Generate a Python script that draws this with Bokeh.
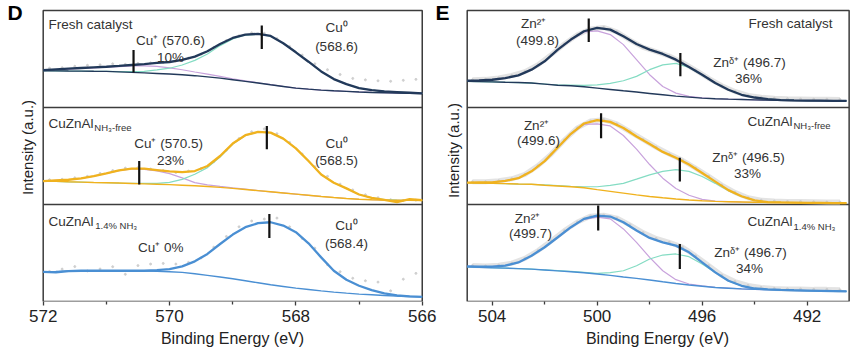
import math
from bokeh.plotting import figure
from bokeh.models import Range1d, Label, FixedTicker
from bokeh.layouts import row
from bokeh.embed import file_html
from bokeh.resources import INLINE

# ---------------- Cu 2p (panel D) ----------------
cu_box = (572.0, 566.0)
cu_e = [572.0, 571.8, 571.6, 571.4, 571.2, 571.0, 570.8, 570.6, 570.4, 570.2, 570.0,
        569.8, 569.6, 569.4, 569.2, 569.0, 568.8, 568.6, 568.4, 568.2, 568.0,
        567.8, 567.6, 567.4, 567.2, 567.0, 566.8, 566.6, 566.4, 566.2, 566.0]
cu_dot_e = [571.9, 571.7, 571.5, 571.3, 571.1, 570.9, 570.7, 570.5, 570.3, 570.1,
            569.9, 569.7, 569.5, 569.3, 569.1, 568.9, 568.7, 568.5, 568.3, 568.1,
            567.9, 567.7, 567.5, 567.3, 567.1, 566.9, 566.7, 566.5, 566.3, 566.1]

cu_fresh_env = [38.6, 39.3, 40.0, 40.7, 41.4, 42.0, 42.8, 43.8, 44.8, 45.9, 46.9, 49.0, 52.4, 58.0, 65.5, 71.7,
                75.2, 75.9, 73.8, 66.2, 56.9, 47.2, 37.2, 29.3, 24.1, 20.0, 17.9, 16.6, 15.9, 15.2, 14.5]
cu_fresh_bg = [37.9, 37.8, 37.6, 37.5, 37.3, 37.2, 36.7, 36.2, 35.7, 35.1, 34.5, 33.7, 32.8, 31.6, 30.3, 28.6,
               26.9, 25.2, 23.4, 21.7, 20.0, 18.9, 17.9, 17.2, 16.6, 16.0, 15.5, 15.2, 14.8, 14.6, 14.5]
cu_fresh_cup = [38.5, 39.0, 39.6, 40.2, 40.9, 41.5, 42.2, 42.9, 43.0, 42.3, 40.9, 38.9, 36.6, 34.4, 32.0, 29.6,
                27.4, 25.5, 23.6, 21.7, 20.0, 18.9, 17.9, 17.2, 16.6, 16.0, 15.5, 15.2, 14.8, 14.6, 14.5]
cu_fresh_cu0 = [37.9, 37.8, 37.6, 37.5, 37.3, 37.3, 37.0, 36.9, 37.3, 38.7, 40.5, 43.8, 48.6, 55.2, 63.8, 70.7,
                74.7, 75.6, 73.6, 66.2, 56.9, 47.2, 37.2, 29.3, 24.1, 20.0, 17.9, 16.6, 15.9, 15.2, 14.5]
cu_fresh_dots = [40.5, 41.0, 42.5, 43.5, 44.0, 45.0, 44.5, 45.5, 46.0, 46.5, 48.0, 51.0, 55.0, 62.0, 69.0,
                 74.0, 77.0, 76.5, 71.0, 63.0, 54.0, 45.0, 39.0, 34.0, 30.0, 28.5, 27.5, 27.0, 28.0, 29.0]

cu_free_env = [24.1, 24.8, 25.5, 26.9, 29.3, 32.1, 35.2, 36.9, 36.9, 35.5, 34.1, 33.4, 34.5, 39.7, 50.0, 62.8,
               71.4, 74.8, 74.1, 67.9, 57.9, 44.8, 31.0, 22.4, 16.6, 10.3, 6.9, 4.8, 2.5, 5.5, 4.5]
cu_free_bg = [24.1, 23.8, 23.4, 23.1, 22.7, 22.4, 22.1, 21.7, 21.3, 20.9, 20.5, 19.9, 19.3, 18.5, 17.6, 16.6,
              15.5, 14.3, 13.1, 11.9, 10.7, 9.5, 8.3, 7.2, 6.2, 5.4, 4.9, 4.6, 4.4, 4.2, 4.1]
cu_free_cup = [24.1, 24.8, 25.5, 26.9, 29.2, 32.0, 35.0, 36.6, 36.3, 34.6, 31.8, 27.4, 22.6, 20.2, 18.6, 17.1,
               15.8, 14.4, 13.1, 11.9, 10.7, 9.5, 8.3, 7.2, 6.2, 5.4, 4.9, 4.6, 4.4, 4.2, 4.1]
cu_free_cu0 = [24.1, 23.8, 23.4, 23.1, 22.7, 22.4, 22.1, 21.9, 21.8, 21.8, 22.8, 25.9, 31.2, 38.0, 49.0, 62.3,
               71.1, 74.7, 74.1, 67.9, 57.9, 44.8, 31.0, 22.4, 16.6, 10.3, 6.9, 5.0, 4.5, 4.2, 4.1]
cu_free_dots = [25.5, 26.0, 27.5, 29.0, 32.0, 35.0, 37.5, 38.0, 36.5, 35.0, 33.0, 34.5, 37.0, 44.0, 56.0,
                68.0, 75.0, 78.0, 73.0, 64.0, 52.0, 39.0, 29.0, 21.0, 15.0, 10.0, 7.0, 5.0, 4.0, 4.5]

cu_nh3_env = [30.5, 30.0, 31.4, 31.7, 31.7, 31.7, 31.7, 31.7, 31.7, 32.4, 33.4, 36.2, 41.4, 49.0, 59.3, 69.0,
              76.6, 80.7, 81.7, 78.3, 71.4, 60.0, 45.5, 31.7, 22.4, 16.2, 11.7, 8.3, 6.2, 5.3, 4.8]
cu_nh3_bg = [30.5, 30.9, 31.4, 31.4, 31.4, 31.4, 31.4, 31.4, 31.3, 31.1, 30.7, 30.0, 28.6, 26.9, 25.2, 23.4,
             21.4, 19.3, 17.2, 15.5, 13.8, 12.4, 11.0, 9.7, 8.6, 7.6, 6.9, 6.2, 5.5, 5.2, 4.8]
cu_nh3_dots = [31.0, 33.4, 36.0, 31.5, 33.5, 35.9, 28.0, 37.0, 38.6, 39.3, 38.6, 40.3, 45.0, 56.0, 67.0,
               77.0, 83.0, 85.0, 86.0, 77.0, 65.0, 55.0, 38.0, 30.7, 24.0, 21.4, 20.0, 11.0, 23.0, 29.0]

cu_mark_e = [570.57, 568.54, 570.48, 568.46, 568.42]
cu_mark_lo = [36.2, 60.3, 20.7, 56.9, 65.5]
cu_mark_hi = [59.3, 84.5, 44.8, 81.0, 90.3]
cu_mark_panel = [2, 2, 1, 1, 0]

# ---------------- Zn LMM (panel E) ----------------
zn_box = (504.95, 490.4)
zn_e = [504.95, 504.5, 504.0, 503.5, 503.0, 502.5, 502.0, 501.5, 501.0, 500.5, 500.0, 499.5, 499.0, 498.5, 498.0,
        497.5, 497.0, 496.5, 496.0, 495.5, 495.0, 494.5, 494.0, 493.5, 493.0, 492.5, 492.0, 491.5, 491.0, 490.5]
zn_dot_e = [504.75, 504.25, 503.75, 503.25, 502.75, 502.25, 501.75, 501.25, 500.75, 500.25, 499.75, 499.25,
            498.75, 498.25, 497.75, 497.25, 496.75, 496.25, 495.75, 495.25, 494.75, 494.25, 493.75, 493.25,
            492.75, 492.25, 491.75, 491.25, 490.75]

zn_fresh_env = [27.6, 28.0, 28.6, 30.3, 33.1, 39.0, 47.6, 59.7, 70.0, 78.6, 82.1, 80.3, 73.4, 65.5, 59.7,
                55.2, 49.3, 41.7, 33.8, 25.2, 18.3, 13.1, 10.3, 8.6, 7.6, 7.3, 7.1, 7.0, 6.9, 6.9]
zn_fresh_bg = [26.9, 26.7, 26.4, 26.0, 25.7, 25.2, 24.1, 22.9, 22.4, 21.4, 20.0, 18.6, 17.2, 15.9, 14.5,
               13.1, 11.7, 10.7, 9.7, 9.0, 8.6, 8.3, 7.9, 7.6, 7.4, 7.2, 7.1, 6.9, 6.9, 6.9]
zn_fresh_zn2 = [27.6, 28.0, 28.6, 30.3, 33.1, 39.0, 47.5, 59.5, 69.5, 77.9, 79.0, 75.2, 64.8, 49.3, 33.8,
                21.7, 14.8, 11.4, 9.9, 9.0, 8.6, 8.3, 7.9, 7.6, 7.4, 7.2, 7.1, 6.9, 6.9, 6.9]
zn_fresh_znd = [26.9, 26.7, 26.4, 26.0, 25.7, 25.2, 24.2, 23.2, 23.0, 22.8, 23.4, 24.8, 27.6, 32.1, 39.0,
                44.0, 45.5, 41.2, 33.6, 25.2, 18.3, 13.1, 10.3, 8.6, 7.6, 7.3, 7.1, 7.0, 6.9, 6.9]
zn_fresh_dots = [28.5, 29.0, 30.5, 33.0, 37.0, 44.0, 54.5, 65.5, 75.0, 81.0, 82.5, 78.0, 69.5, 62.0, 57.5,
                 53.0, 46.5, 38.5, 30.0, 22.5, 16.5, 12.5, 10.5, 9.5, 9.0, 8.8, 8.5, 8.5, 8.3]

zn_free_env = [22.5, 22.7, 22.9, 24.3, 27.1, 34.2, 44.7, 58.8, 72.9, 83.5, 87.0, 85.2, 78.9, 70.1, 62.3,
               54.2, 48.2, 41.2, 32.4, 23.6, 14.8, 8.5, 4.2, 2.5, 2.1, 1.9, 1.7, 1.6, 1.5, 1.4]
zn_free_bg = [22.5, 22.2, 21.8, 21.5, 21.1, 20.8, 19.9, 19.1, 18.3, 17.3, 15.3, 13.5, 11.7, 9.9, 8.2,
              6.9, 5.7, 4.7, 3.9, 3.2, 2.9, 2.6, 2.3, 2.1, 2.0, 1.8, 1.7, 1.6, 1.5, 1.4]
zn_free_zn2 = [22.5, 22.7, 22.9, 24.3, 27.1, 34.2, 44.6, 58.6, 72.5, 82.5, 83.1, 81.0, 71.1, 57.0, 41.2,
               27.1, 16.5, 9.5, 5.3, 3.5, 3.0, 2.6, 2.3, 2.1, 2.0, 1.8, 1.7, 1.6, 1.5, 1.4]
zn_free_znd = [22.5, 22.2, 21.8, 21.5, 21.1, 20.8, 20.2, 19.5, 18.8, 18.3, 18.3, 19.7, 21.8, 26.1, 30.6,
               34.2, 35.9, 34.2, 28.9, 21.8, 14.1, 8.4, 4.2, 2.4, 2.1, 1.9, 1.7, 1.6, 1.5, 1.4]
zn_free_dots = [23.5, 23.5, 24.5, 26.5, 31.0, 40.0, 52.0, 66.5, 79.0, 86.0, 87.5, 83.0, 75.0, 67.0, 59.0,
                52.0, 45.5, 37.5, 29.0, 20.0, 12.5, 7.0, 4.5, 3.5, 3.0, 3.0, 2.8, 2.5, 2.5]

zn_nh3_env = [36.2, 36.0, 35.9, 36.9, 40.3, 47.2, 55.9, 66.2, 76.6, 85.2, 88.6, 87.6, 81.7, 73.1, 65.5,
              61.0, 57.6, 50.7, 40.3, 30.0, 21.4, 16.2, 13.4, 12.5, 12.0, 11.6, 11.3, 11.0, 10.7, 10.4]
zn_nh3_bg = [35.9, 35.3, 34.8, 34.4, 33.9, 33.4, 32.5, 31.6, 30.7, 29.7, 28.3, 26.9, 25.3, 23.8, 22.1,
             20.3, 18.6, 17.0, 15.7, 14.4, 13.7, 13.0, 12.6, 12.2, 11.9, 11.5, 11.2, 11.0, 10.7, 10.4]
zn_nh3_zn2 = [36.2, 36.0, 35.9, 36.9, 40.2, 47.1, 55.8, 66.0, 76.3, 84.7, 86.9, 85.2, 74.8, 61.0, 45.5,
              31.7, 22.5, 18.0, 16.2, 14.6, 13.8, 13.0, 12.6, 12.2, 11.9, 11.5, 11.2, 11.0, 10.7, 10.4]
zn_nh3_znd = [35.9, 35.3, 34.8, 34.4, 33.9, 33.4, 32.5, 31.8, 31.0, 30.0, 29.0, 29.7, 31.7, 36.9, 43.8,
              47.9, 49.0, 46.2, 38.6, 29.8, 21.3, 16.2, 13.4, 12.5, 12.0, 11.6, 11.3, 11.0, 10.7, 10.4]
zn_nh3_dots = [37.0, 36.5, 37.5, 39.5, 44.5, 52.5, 62.5, 73.0, 82.0, 88.0, 89.0, 86.0, 79.0, 71.0, 65.0,
               61.0, 56.0, 47.0, 37.0, 27.0, 20.5, 16.5, 14.5, 13.5, 13.0, 13.0, 12.5, 12.5, 12.0]

zn_mark_e = [500.32, 496.83, 499.85, 496.85, 499.96, 496.85]
zn_mark_lo = [67.6, 32.1, 68.3, 23.6, 73.1, 33.4]
zn_mark_hi = [91.7, 56.2, 94.0, 48.2, 99.0, 59.3]
zn_mark_panel = [2, 2, 1, 1, 0, 0]

cu_ticks = [572, 570, 568, 566]
cu_minor = [571, 569, 567]
zn_ticks = [504, 500, 496, 492]
zn_minor = [502, 498, 494]

# ---------------- styles ----------------
FONT = "Liberation Sans"
C_FRESH = "#22395a"
C_FREE = "#f0b21e"
C_NH3 = "#4a8fd3"
C_PURPLE = "#c8a2dc"
C_TEAL = "#84dcc3"
C_DOT = "#cccccc"
C_FRAME = "#3c3c3c"
C_TEXT = "#333333"
Y_TOP = 310.3   # frame reaches the top of the canvas


def off(arr, k):
    return [v + 100 * k for v in arr]


def make_fig(xr, width, border_right, ticks, minor, box):
    p = figure(width=width + border_right, height=355,
               x_range=Range1d(*xr), y_range=Range1d(0, Y_TOP),
               frame_width=width, frame_height=301,
               min_border_left=0, min_border_right=border_right, min_border_top=0, min_border_bottom=54,
               y_axis_location=None, output_backend="svg", toolbar_location=None)
    p.xgrid.visible = False
    p.ygrid.visible = False
    p.outline_line_color = None
    p.background_fill_color = "white"
    p.border_fill_color = "white"
    ax = p.xaxis[0]
    ax.ticker = FixedTicker(ticks=ticks, minor_ticks=minor)
    ax.axis_line_color = None
    ax.major_tick_in = 0
    ax.major_tick_out = 4
    ax.minor_tick_in = 0
    ax.minor_tick_out = 3
    ax.major_tick_line_color = C_FRAME
    ax.minor_tick_line_color = C_FRAME
    ax.major_tick_line_width = 1.3
    ax.minor_tick_line_width = 1.3
    ax.major_label_text_font = FONT
    ax.major_label_text_font_size = "17px"
    ax.major_label_text_color = "#222222"
    ax.major_label_standoff = 4
    ax.axis_label = "Binding Energy (eV)"
    ax.axis_label_text_font = FONT
    ax.axis_label_text_font_size = "16px"
    ax.axis_label_text_font_style = "normal"
    ax.axis_label_text_color = "#222222"
    ax.axis_label_standoff = 5
    # stacked boxes
    p.quad(left=[box[0]], right=[box[1]], bottom=[0], top=[300],
           fill_color=None, line_color=C_FRAME, line_width=1.5)
    p.segment(x0=[box[0], box[0]], x1=[box[1], box[1]], y0=[100, 200], y1=[100, 200],
              line_color=C_FRAME, line_width=1.5)
    return p


def lab(p, x, y, text, size="13.5px", align="center", style="normal", angle=0.0, color=C_TEXT):
    p.add_layout(Label(x=x, y=y, text=text, text_font=FONT, text_font_size=size,
                       text_align=align, text_baseline="middle", text_font_style=style,
                       text_color=color, angle=angle))


def draw_panel(p, xs, dxs, k, color, env, bg, dots, comp_a=None, comp_b=None, halo=False):
    if halo:
        p.line(dxs, off(dots, k), line_width=5, color="#dcdcdc", alpha=0.8)
    p.scatter(dxs, off(dots, k), size=2, color=C_DOT, alpha=0.9)
    if comp_a is not None:
        p.line(xs, off(comp_a, k), line_width=1.2, color=C_PURPLE)
    if comp_b is not None:
        p.line(xs, off(comp_b, k), line_width=1.2, color=C_TEAL)
    p.line(xs, off(bg, k), line_width=1.4, color=color)
    p.line(xs, off(env, k), line_width=2.3, color=color)


# ---------------- panel D (also carries the left margin texts of E) ----------------
pD = make_fig((572.676, 565.331), 464, 0, cu_ticks, cu_minor, cu_box)
draw_panel(pD, cu_e, cu_dot_e, 2, C_FRESH, cu_fresh_env, cu_fresh_bg, cu_fresh_dots, cu_fresh_cup, cu_fresh_cu0)
draw_panel(pD, cu_e, cu_dot_e, 1, C_FREE, cu_free_env, cu_free_bg, cu_free_dots, cu_free_cup, cu_free_cu0)
draw_panel(pD, cu_e, cu_dot_e, 0, C_NH3, cu_nh3_env, cu_nh3_bg, cu_nh3_dots)
pD.segment(x0=cu_mark_e, x1=cu_mark_e,
           y0=[lo + 100 * k for lo, k in zip(cu_mark_lo, cu_mark_panel)],
           y1=[hi + 100 * k for hi, k in zip(cu_mark_hi, cu_mark_panel)],
           line_width=2.2, color="#111111")

lab(pD, 571.916, 285.6, "Fresh catalyst", align="left")
lab(pD, 569.985, 269.1, "Cu⁺ (570.6)")
lab(pD, 569.985, 251.5, "10%")
lab(pD, 567.357, 282.5, "Cu⁰")
lab(pD, 567.357, 262.9, "(568.6)")

lab(pD, 571.916, 183.5, "CuZnAl", align="left")
lab(pD, 571.19, 178.9, "NH₃-free", size="9.5px", align="left")
lab(pD, 569.985, 162.9, "Cu⁺  (570.5)")
lab(pD, 569.985, 145.4, "23%")
lab(pD, 567.357, 162.9, "Cu⁰")
lab(pD, 567.357, 145.4, "(568.5)")

lab(pD, 571.916, 82.5, "CuZnAl", align="left")
lab(pD, 571.175, 78.4, "1.4% NH₃", size="9.5px", align="left")
lab(pD, 570.111, 55.7, "Cu⁺  0%")
lab(pD, 567.199, 78.4, "Cu⁰")
lab(pD, 567.199, 59.8, "(568.4)")

lab(pD, 572.249, 158.8, "Intensity (a.u.)", size="15px", angle=math.pi / 2, color="#222222")
lab(pD, 572.565, 297.9, "D", size="21px", align="left", style="bold", color="#000000")
lab(pD, 565.513, 155.7, "Intensity (a.u.)", size="15px", angle=math.pi / 2, color="#222222")
lab(pD, 565.79, 297.9, "E", size="21px", align="left", style="bold", color="#000000")

# ---------------- panel E ----------------
pE = make_fig((505.053, 490.348), 386, 15, zn_ticks, zn_minor, zn_box)
draw_panel(pE, zn_e, zn_dot_e, 2, C_FRESH, zn_fresh_env, zn_fresh_bg, zn_fresh_dots, zn_fresh_zn2, zn_fresh_znd, halo=True)
draw_panel(pE, zn_e, zn_dot_e, 1, C_FREE, zn_free_env, zn_free_bg, zn_free_dots, zn_free_zn2, zn_free_znd, halo=True)
draw_panel(pE, zn_e, zn_dot_e, 0, C_NH3, zn_nh3_env, zn_nh3_bg, zn_nh3_dots, zn_nh3_zn2, zn_nh3_znd, halo=True)
pE.segment(x0=zn_mark_e, x1=zn_mark_e,
           y0=[lo + 100 * k for lo, k in zip(zn_mark_lo, zn_mark_panel)],
           y1=[hi + 100 * k for hi, k in zip(zn_mark_hi, zn_mark_panel)],
           line_width=2.2, color="#111111")

lab(pE, 502.424, 286.6, "Zn²⁺")
lab(pE, 502.272, 269.1, "(499.8)")
lab(pE, 491.034, 286.6, "Fresh catalyst", align="right")
lab(pE, 494.197, 246.4, "Znᵟ⁺ (496.7)")
lab(pE, 494.234, 229.9, "36%")

lab(pE, 502.31, 181.4, "Zn²⁺")
lab(pE, 502.234, 166.0, "(499.6)")
lab(pE, 494.272, 185.6, "CuZnAl", align="left")
lab(pE, 492.52, 181.0, "NH₃-free", size="9.5px", align="left")
lab(pE, 494.234, 148.5, "Znᵟ⁺ (496.5)")
lab(pE, 494.272, 132.0, "33%")

lab(pE, 502.653, 85.6, "Zn²⁺")
lab(pE, 502.539, 70.1, "(499.7)")
lab(pE, 494.272, 82.5, "CuZnAl", align="left")
lab(pE, 492.52, 77.8, "1.4% NH₃", size="9.5px", align="left")
lab(pE, 494.158, 50.5, "Znᵟ⁺ (496.7)")
lab(pE, 494.197, 34.0, "34%")

layout = row(pD, pE)
open("out.html", "w").write(file_html(layout, INLINE))
